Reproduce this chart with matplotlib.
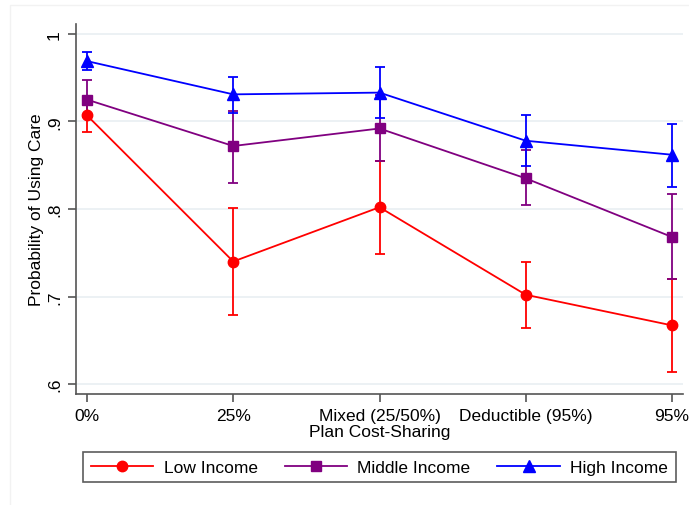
import numpy as np
import matplotlib.pyplot as plt
from matplotlib.patches import Rectangle

plt.rcParams['font.family'] = ['Liberation Sans', 'DejaVu Sans']

plans = ['0%', '25%', 'Mixed (25/50%)', 'Deductible (95%)', '95%']

low_mean = [0.907, 0.740, 0.802, 0.702, 0.667]
low_lo   = [0.888, 0.679, 0.749, 0.664, 0.614]
low_hi   = [0.926, 0.801, 0.855, 0.740, 0.720]

mid_mean = [0.925, 0.872, 0.892, 0.835, 0.768]
mid_lo   = [0.905, 0.830, 0.855, 0.805, 0.720]
mid_hi   = [0.947, 0.912, 0.930, 0.867, 0.817]

high_mean = [0.969, 0.931, 0.933, 0.878, 0.862]
high_lo   = [0.959, 0.910, 0.904, 0.849, 0.825]
high_hi   = [0.979, 0.951, 0.962, 0.907, 0.897]

series = [
    ('Low Income', low_mean, low_lo, low_hi, '#ff0000', 'o', 7.5),
    ('Middle Income', mid_mean, mid_lo, mid_hi, '#800080', 's', 7.5),
    ('High Income', high_mean, high_lo, high_hi, '#0000ff', '^', 8),
]

fs = 12.5

fig = plt.figure(figsize=(6.89, 5.06), dpi=100)
fig.patches.append(Rectangle((10/689, -0.1), 1.2, 1 - 6/506 + 0.1, transform=fig.transFigure,
                             fill=False, edgecolor='#f2f2f2', linewidth=1, zorder=0))
ax = fig.add_axes([76/689, 1 - 395/506, (683 - 76)/689, (395 - 25)/506])

x = np.arange(len(plans))
handles = []
for name, m, lo, hi, col, mk, ms in series:
    m = np.array(m)
    err = [m - np.array(lo), np.array(hi) - m]
    ax.errorbar(x, m, yerr=err, fmt='none', ecolor=col, elinewidth=1.3,
                capsize=3.5, capthick=1.3, zorder=3)
    h, = ax.plot(x, m, color=col, marker=mk, markersize=ms, linewidth=1.3, zorder=4,
                 label=name)
    handles.append(h)

ax.set_xlim(-0.075, 4.075)
ax.set_ylim(0.5886, 1.0114)
ax.set_xticks(x)
ax.set_xticklabels(plans, fontsize=fs)
ax.set_yticks([0.6, 0.7, 0.8, 0.9, 1.0])
ax.set_yticklabels(['.6', '.7', '.8', '.9', '1'], fontsize=fs, rotation=90, va='center')
ax.grid(axis='y', color='#eaf0f3', linewidth=1.3, zorder=0)
ax.set_axisbelow(True)
for s in ['top', 'right']:
    ax.spines[s].set_visible(False)
for s in ['left', 'bottom']:
    ax.spines[s].set_color('#555555')
    ax.spines[s].set_linewidth(1.2)
ax.tick_params(axis='both', direction='out', length=6, width=1.2, color='#555555', pad=4)
ax.set_xlabel('Plan Cost-Sharing', fontsize=fs, labelpad=1)
ax.set_ylabel('Probability of Using Care', fontsize=fs, labelpad=2)

leg = fig.legend(handles=handles, loc='center',
                 bbox_to_anchor=((82 + 677) / 2 / 689, 1 - 468/506),
                 ncol=3, frameon=True, fancybox=False, fontsize=fs,
                 handlelength=3.6, borderpad=0.45, columnspacing=1.55, handletextpad=0.6)
leg.get_frame().set_edgecolor('#333333')
leg.get_frame().set_linewidth(1.2)

fig.savefig('out.png', dpi=100)
